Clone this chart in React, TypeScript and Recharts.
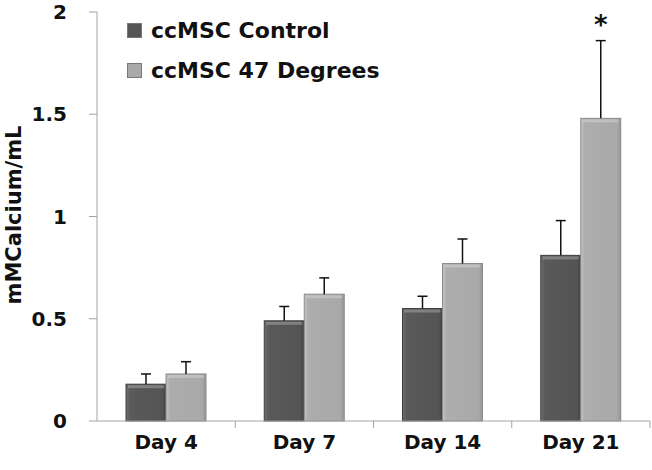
import React from 'react';
import { BarChart, Bar, XAxis, YAxis } from 'recharts';

const categories = ['Day 4', 'Day 7', 'Day 14', 'Day 21'];
const controlValues = [0.18, 0.49, 0.55, 0.81];
const controlErrors = [0.05, 0.07, 0.06, 0.17];
const heatValues = [0.23, 0.62, 0.77, 1.48];
const heatErrors = [0.06, 0.08, 0.12, 0.38];
const significance = ['', '', '', '*'];
const yTicks = [0, 0.5, 1, 1.5, 2];
const seriesNames = ['ccMSC Control', 'ccMSC 47 Degrees'];

const data = categories.map((day, i) => ({
  day,
  control: controlValues[i],
  controlErr: controlErrors[i],
  heat: heatValues[i],
  heatErr: heatErrors[i],
  mark: significance[i],
}));

const W = 652;
const H = 470;
const margin = { top: 12, right: 2, left: 0, bottom: 0 };
const yAxisWidth = 97;
const bandHalf = (W - margin.left - margin.right - yAxisWidth) / categories.length / 2;
const font = '"DejaVu Sans", sans-serif';
const axisGrey = '#a3a3a3';

const makeShape = (errKey: string, fillId: string, edge: string, withMark: boolean) => (props: any) => {
  const { x, y, width, height, payload, value } = props;
  const v = Array.isArray(value) ? value[1] - value[0] : value;
  const perUnit = v ? height / v : 0;
  const errTop = y - payload[errKey] * perUnit;
  const cx = x + width / 2;
  return (
    <g>
      <rect x={x} y={y} width={width} height={height} fill={`url(#${fillId})`} stroke={edge} strokeWidth={1} />
      <rect x={x + 2} y={y + 1} width={width - 4} height={3} fill="#ffffff" opacity={0.25} />
      <line x1={cx} x2={cx} y1={y} y2={errTop} stroke="#111" strokeWidth={1.5} />
      <line x1={cx - 5} x2={cx + 5} y1={errTop} y2={errTop} stroke="#111" strokeWidth={1.5} />
      {withMark && payload.mark ? (
        <text x={cx} y={errTop - 7} textAnchor="middle" fontFamily={font} fontWeight={700} fontSize={26} fill="#111">
          {payload.mark}
        </text>
      ) : null}
    </g>
  );
};

const DayTick = (props: any) => {
  const { x, y, payload } = props;
  return (
    <g>
      <line x1={x + bandHalf} x2={x + bandHalf} y1={y} y2={y + 7} stroke={axisGrey} />
      <text x={x} y={y + 28} textAnchor="middle" fontFamily={font} fontWeight={700} fontSize={20} fill="#111">
        {payload.value}
      </text>
    </g>
  );
};

const LegendBox = () => {
  const swatches = ['#555555', '#a9a9a9'];
  return (
    <div
      style={{
        position: 'absolute',
        left: 127,
        top: 10,
        fontFamily: font,
        fontWeight: 700,
        fontSize: 22,
        color: '#111',
      }}
    >
      {seriesNames.map((name, i) => (
        <div key={name} style={{ display: 'flex', alignItems: 'center', height: 40 }}>
          <span
            style={{
              display: 'inline-block',
              width: 13,
              height: 13,
              marginRight: 9,
              background: swatches[i],
              border: '1px solid #777',
            }}
          />
          {name}
        </div>
      ))}
    </div>
  );
};

export default function App() {
  return (
    <div style={{ position: 'absolute', left: 0, top: 0, width: W, height: H, background: '#fff' }}>
      <BarChart width={W} height={H} data={data} margin={margin} barGap={0} barSize={40}>
        <defs>
          <linearGradient id="darkFill" x1="0" y1="0" x2="1" y2="0">
            <stop offset="0%" stopColor="#6e6e6e" />
            <stop offset="10%" stopColor="#5a5a5a" />
            <stop offset="90%" stopColor="#545454" />
            <stop offset="100%" stopColor="#444444" />
          </linearGradient>
          <linearGradient id="lightFill" x1="0" y1="0" x2="1" y2="0">
            <stop offset="0%" stopColor="#c4c4c4" />
            <stop offset="10%" stopColor="#adadad" />
            <stop offset="90%" stopColor="#a9a9a9" />
            <stop offset="100%" stopColor="#959595" />
          </linearGradient>
        </defs>
        <XAxis
          dataKey="day"
          height={49}
          axisLine={{ stroke: axisGrey }}
          tickLine={false}
          tickSize={0}
          tickMargin={0}
          tick={<DayTick />}
          interval={0}
        />
        <YAxis
          width={yAxisWidth}
          domain={[0, 2]}
          ticks={yTicks}
          interval={0}
          axisLine={{ stroke: axisGrey }}
          tickLine={{ stroke: axisGrey }}
          tickSize={8}
          tickMargin={22}
          tick={{ fontFamily: font, fontWeight: 700, fontSize: 20, fill: '#111' }}
          label={{
            content: () => (
              <text
                x={14}
                y={215}
                transform="rotate(-90, 14, 215)"
                textAnchor="middle"
                dominantBaseline="central"
                fontFamily={font}
                fontWeight={700}
                fontSize={21}
                fill="#111"
              >
                mMCalcium/mL
              </text>
            ),
          }}
        />
        <Bar
          dataKey="control"
          name={seriesNames[0]}
          isAnimationActive={false}
          shape={makeShape('controlErr', 'darkFill', '#3e3e3e', false)}
        />
        <Bar
          dataKey="heat"
          name={seriesNames[1]}
          isAnimationActive={false}
          shape={makeShape('heatErr', 'lightFill', '#8a8a8a', true)}
        />
      </BarChart>
      <LegendBox />
    </div>
  );
}
